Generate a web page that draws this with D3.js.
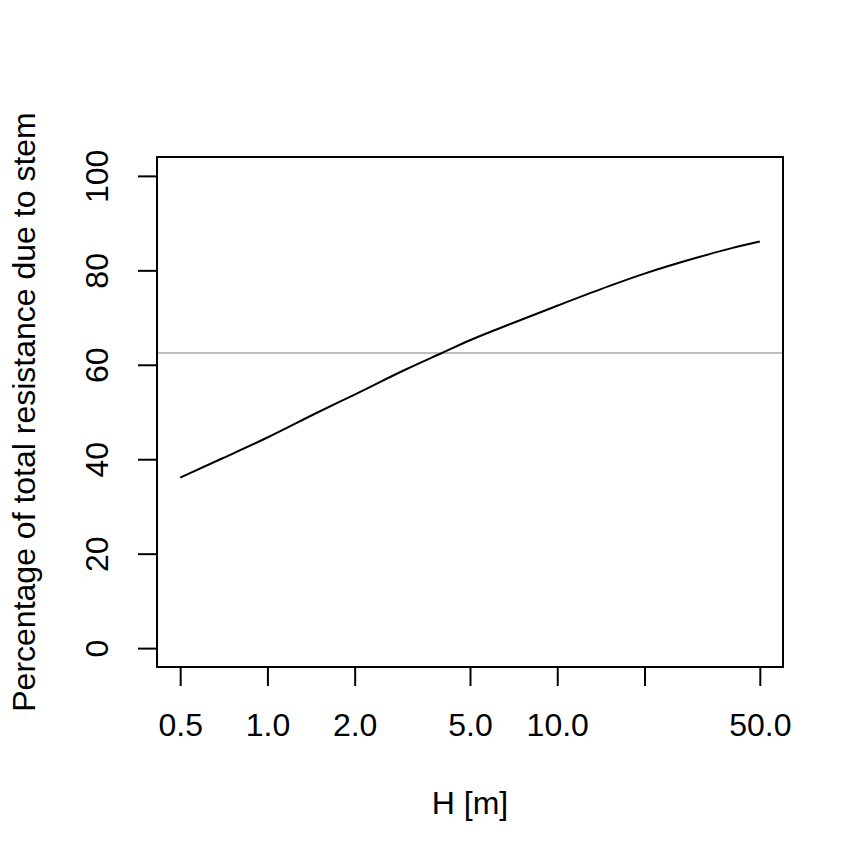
<!DOCTYPE html>
<html>
<head>
<meta charset="utf-8">
<script src="https://cdn.jsdelivr.net/npm/d3@7"></script>
<style>
  body { margin: 0; background: #fff; }
  text { font-family: "Liberation Sans", Arial, sans-serif; fill: #000; }
</style>
</head>
<body>
<svg id="chart" width="864" height="864"></svg>
<script>
// values
var heights = [0.5, 0.7, 1, 1.5, 2, 3, 4, 5, 7, 10, 15, 20, 30, 40, 50];
var stemPct = [36.1, 40.2, 44.6, 50.0, 53.7, 59.0, 62.5, 65.2, 68.8, 72.5, 76.6, 79.3, 82.6, 84.7, 86.1];
var refLevel = 62.5;

var xTicks = [0.5, 1, 2, 5, 10, 20, 50];
var xTickLabels = ["0.5", "1.0", "2.0", "5.0", "10.0", "", "50.0"];
var yTicks = [0, 20, 40, 60, 80, 100];

var svg = d3.select("#chart");
var plotL = 157, plotR = 783, plotT = 157, plotB = 667;
var fs = 32;

// R style 4% extension on each side
var lx = [Math.log10(0.5), Math.log10(50)], dx = (lx[1] - lx[0]) * 0.04;
var x = d3.scaleLog()
  .domain([Math.pow(10, lx[0] - dx), Math.pow(10, lx[1] + dx)])
  .range([plotL, plotR]);
var y = d3.scaleLinear().domain([-4, 104]).range([plotB, plotT]);

// reference line
svg.append("line")
  .attr("x1", plotL).attr("x2", plotR)
  .attr("y1", y(refLevel)).attr("y2", y(refLevel))
  .attr("stroke", "#bebebe").attr("stroke-width", 2);

var pts = heights.map(function(h, i){ return [h, stemPct[i]]; });
svg.append("path")
  .datum(pts)
  .attr("fill", "none").attr("stroke", "#000").attr("stroke-width", 2)
  .attr("d", d3.line()
    .x(function(d){ return x(d[0]); })
    .y(function(d){ return y(d[1]); })
    .curve(d3.curveMonotoneX));

// box
svg.append("rect")
  .attr("x", plotL).attr("y", plotT)
  .attr("width", plotR - plotL).attr("height", plotB - plotT)
  .attr("fill", "none").attr("stroke", "#000").attr("stroke-width", 2);

var xAxis = svg.append("g")
  .attr("transform", "translate(0," + plotB + ")")
  .call(d3.axisBottom(x).tickValues(xTicks)
    .tickFormat(function(d, i){ return xTickLabels[i]; })
    .tickSize(19).tickPadding(27));
var yAxis = svg.append("g")
  .attr("transform", "translate(" + plotL + ",0)")
  .call(d3.axisLeft(y).tickValues(yTicks).tickSize(19).tickPadding(0));

[xAxis, yAxis].forEach(function(g){
  g.select(".domain").remove();
  g.selectAll(".tick line").attr("stroke", "#000").attr("stroke-width", 2);
  g.selectAll(".tick text").style("font-size", fs + "px")
    .style("font-family", "'Liberation Sans', Arial, sans-serif").attr("fill", "#000");
});

// rotate y tick labels like R (las=0)
yAxis.selectAll(".tick text")
  .attr("x", null).attr("dy", null)
  .attr("text-anchor", "middle")
  .attr("transform", "translate(-49,0) rotate(-90)");

svg.append("text")
  .attr("x", (plotL + plotR) / 2).attr("y", 814)
  .attr("text-anchor", "middle").style("font-size", fs + "px")
  .text("H [m]");

svg.append("text")
  .attr("transform", "translate(35," + (plotT + plotB) / 2 + ") rotate(-90)")
  .attr("text-anchor", "middle").style("font-size", fs + "px")
  .text("Percentage of total resistance due to stem");
</script>
</body>
</html>
